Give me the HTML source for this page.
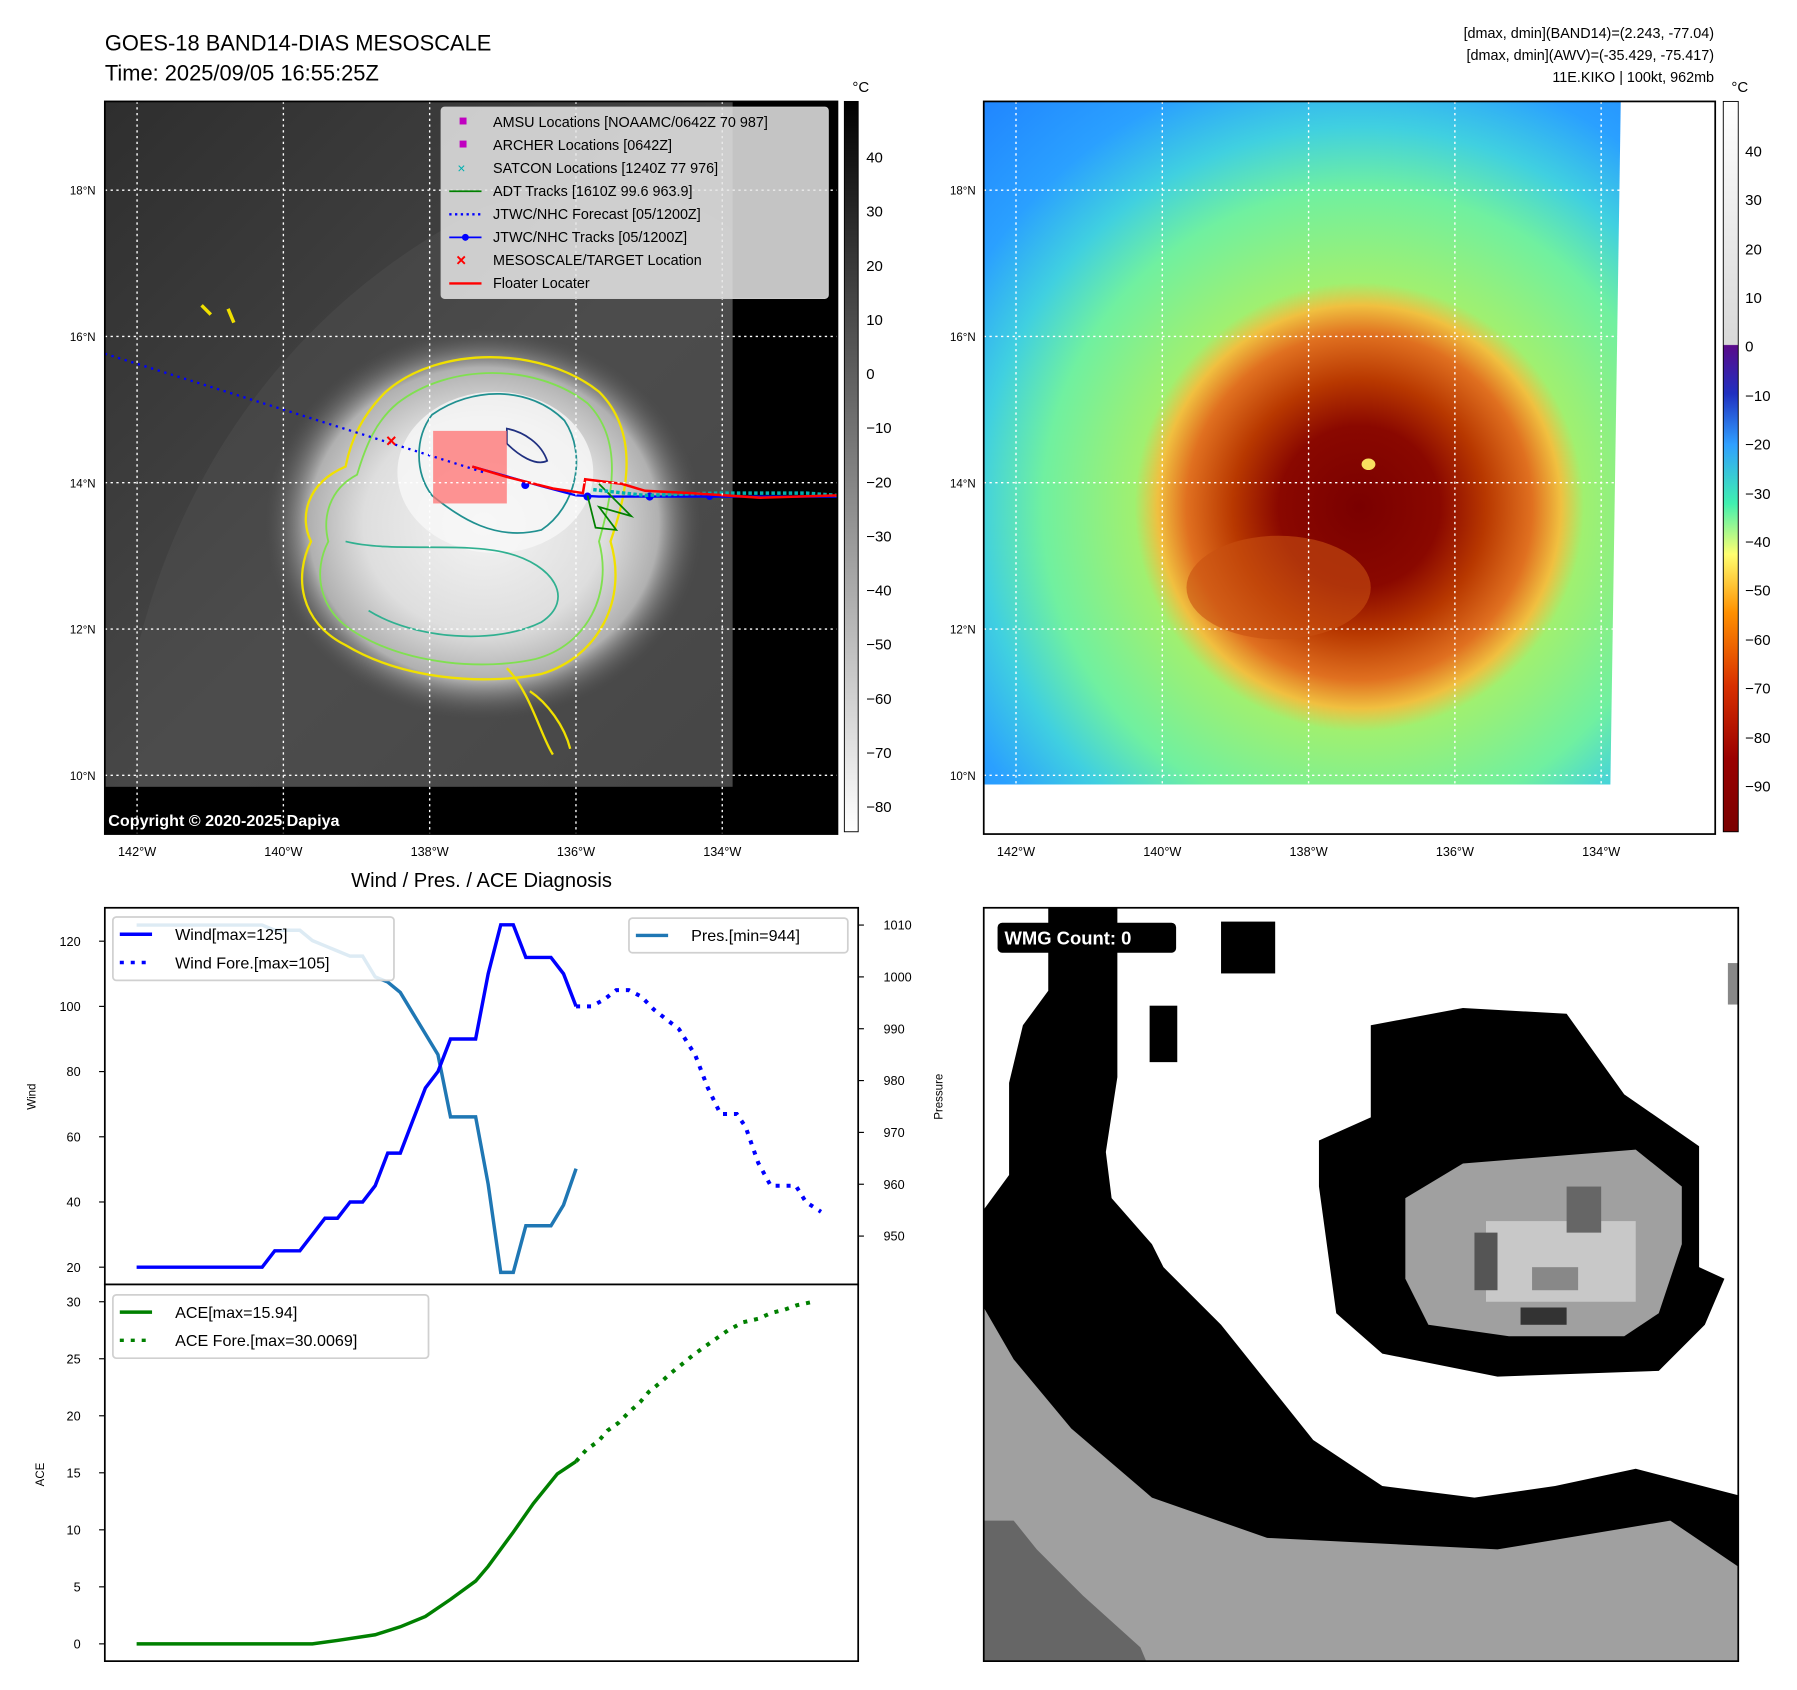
<!DOCTYPE html>
<html><head><meta charset="utf-8"><style>
html,body{margin:0;padding:0;background:#fff}
svg{display:block;font-family:"Liberation Sans","DejaVu Sans",sans-serif}
</style></head><body>
<svg id="fig" width="1797" height="1690" viewBox="0 0 1560 1467" xmlns="http://www.w3.org/2000/svg">
<defs>
<radialGradient id="cloud" cx="0.5" cy="0.5" r="0.5">
<stop offset="0" stop-color="#f4f4f4"/><stop offset="0.55" stop-color="#dedede"/><stop offset="0.8" stop-color="#b0b0b0"/><stop offset="1" stop-color="#555" stop-opacity="0"/>
</radialGradient>
<linearGradient id="bgL" x1="0" y1="0" x2="1" y2="1">
<stop offset="0" stop-color="#2e2e2e"/><stop offset="0.5" stop-color="#484848"/><stop offset="1" stop-color="#3c3c3c"/>
</linearGradient>
<radialGradient id="storm" cx="1180" cy="440" r="500" gradientUnits="userSpaceOnUse">
<stop offset="0" stop-color="#7a0000"/><stop offset="0.14" stop-color="#8a0800"/><stop offset="0.22" stop-color="#b83800"/><stop offset="0.3" stop-color="#e07020"/><stop offset="0.35" stop-color="#f0c040"/><stop offset="0.39" stop-color="#a0f070"/><stop offset="0.55" stop-color="#70f0a0"/><stop offset="0.66" stop-color="#40d0e0"/><stop offset="0.78" stop-color="#2aa0ff"/><stop offset="1" stop-color="#1e80ff"/>
</radialGradient>
<linearGradient id="cbL" x1="0" y1="0" x2="0" y2="1">
<stop offset="0" stop-color="#000"/><stop offset="1" stop-color="#fff"/>
</linearGradient>
<linearGradient id="cbR" x1="0" y1="0" x2="0" y2="1">
<stop offset="0" stop-color="#ffffff"/><stop offset="0.333" stop-color="#d8d8d8"/><stop offset="0.334" stop-color="#5a0a8a"/><stop offset="0.4" stop-color="#2030c0"/><stop offset="0.47" stop-color="#30a0ff"/><stop offset="0.55" stop-color="#40f0b0"/><stop offset="0.62" stop-color="#ffff70"/><stop offset="0.7" stop-color="#ff9000"/><stop offset="0.8" stop-color="#d83000"/><stop offset="0.9" stop-color="#9a0000"/><stop offset="1" stop-color="#7a0000"/>
</linearGradient>
</defs>

<text x="91" y="44" font-size="19">GOES-18 BAND14-DIAS MESOSCALE</text>
<text x="91" y="70" font-size="19">Time: 2025/09/05 16:55:25Z</text>
<g font-size="12.5" text-anchor="end">
<text x="1488" y="33">[dmax, dmin](BAND14)=(2.243, -77.04)</text>
<text x="1488" y="52">[dmax, dmin](AWV)=(-35.429, -75.417)</text>
<text x="1488" y="71">11E.KIKO | 100kt, 962mb</text>
</g>

<!-- Left satellite map -->
<g>
<rect x="91" y="88" width="636" height="636" fill="url(#bgL)"/>
<path d="M120,560 C160,400 260,260 420,180 C520,150 600,170 636,200 L636,683 L120,683Z" fill="#555" opacity="0.35"/>
<rect x="636" y="88" width="91" height="636" fill="#000"/>
<rect x="91" y="683" width="636" height="41" fill="#000"/>
<ellipse cx="420" cy="455" rx="190" ry="170" fill="url(#cloud)"/>
<ellipse cx="430" cy="410" rx="85" ry="70" fill="#f8f8f8" opacity="0.8"/>
<path d="M335,340 C380,300 470,300 520,340 C560,380 540,440 530,470 C545,520 520,570 470,585 C420,595 350,590 300,560 C260,540 255,500 270,470 C260,450 265,420 300,405 C305,380 315,360 335,340Z" fill="none" stroke="#f0e000" stroke-width="2"/>
<path d="M345,350 C390,315 465,315 510,350 C545,385 528,440 520,470 C532,515 510,560 465,572 C420,582 355,577 310,550 C275,530 272,495 285,470 C280,450 285,425 310,412 C318,385 327,365 345,350Z" fill="none" stroke="#80e050" stroke-width="1.6"/>
<path d="M375,360 C410,335 460,335 490,365 C510,395 500,440 470,460 C430,470 400,450 375,430 C360,410 360,380 375,360Z" fill="none" stroke="#209090" stroke-width="1.5"/>
<path d="M300,470 C340,480 400,470 440,480 C480,490 500,520 470,540 C430,560 360,555 320,530" fill="none" stroke="#30b090" stroke-width="1.5"/>
<path d="M440,372 C455,375 470,385 475,400 C465,405 450,395 440,385Z" fill="none" stroke="#203080" stroke-width="1.5"/>
<path d="M440,580 C460,600 470,640 480,655 M460,600 C475,610 490,630 495,650" fill="none" stroke="#f0e000" stroke-width="2"/>
<path d="M175,265 l8,8 M198,268 l5,12" stroke="#f0e000" stroke-width="3"/>
<rect x="376" y="374" width="64" height="63" fill="#ff7070" opacity="0.75"/>
<path d="M91,307 L420,410" stroke="#0000ff" stroke-width="2" stroke-dasharray="2,4" fill="none"/>
<path d="M410,405 L470,422 L500,430 L520,431 L560,431 L727,431" stroke="#0000ff" stroke-width="2" fill="none"/>
<g fill="#0000ff"><circle cx="456" cy="421" r="3.5"/><circle cx="510" cy="431" r="3.5"/><circle cx="564" cy="431" r="3.5"/><circle cx="616" cy="431" r="3"/></g>
<path d="M510,430 L517,458 L535,460 L520,440 L548,448 L520,420" stroke="#008000" stroke-width="1.5" fill="none"/>
<path d="M515,425 L560,430 L620,428 L700,428 L727,430" stroke="#00b0b0" stroke-width="3" stroke-dasharray="3,2" fill="none"/>
<path d="M410,405 L440,414 L480,424 L506,428 L508,416 L540,420 L560,426 L600,428 L660,432 L727,430" stroke="#ff0000" stroke-width="2.2" fill="none"/>
<text x="335" y="388" fill="#ff0000" font-size="16" font-weight="bold">×</text>
<g stroke="#fff" stroke-width="1.2" stroke-dasharray="2,3">
<line x1="119" y1="88" x2="119" y2="724"/><line x1="246" y1="88" x2="246" y2="724"/><line x1="373" y1="88" x2="373" y2="724"/><line x1="500" y1="88" x2="500" y2="724"/><line x1="627" y1="88" x2="627" y2="724"/>
<line x1="91" y1="165" x2="727" y2="165"/><line x1="91" y1="292" x2="727" y2="292"/><line x1="91" y1="419" x2="727" y2="419"/><line x1="91" y1="546" x2="727" y2="546"/><line x1="91" y1="673" x2="727" y2="673"/>
</g>
<text x="94" y="717" fill="#fff" font-size="14" font-weight="bold">Copyright © 2020-2025 Dapiya</text>
<rect x="91" y="88" width="636" height="636" fill="none" stroke="#000" stroke-width="1.5"/>
</g>
<g>
<rect x="383" y="93" width="336" height="166" rx="3" fill="#e6e6e6" fill-opacity="0.85" stroke="#ccc"/>
<g font-size="12.5">
<rect x="399" y="102" width="6" height="6" fill="#c000c0"/><text x="428" y="110">AMSU Locations [NOAAMC/0642Z 70 987]</text>
<rect x="399" y="122" width="6" height="6" fill="#c000c0"/><text x="428" y="130">ARCHER Locations [0642Z]</text>
<text x="397" y="150" fill="#00b0b0" font-size="12">×</text><text x="428" y="150">SATCON Locations [1240Z 77 976]</text>
<line x1="390" y1="166" x2="418" y2="166" stroke="#008000" stroke-width="1.5"/><text x="428" y="170">ADT Tracks [1610Z 99.6 963.9]</text>
<line x1="390" y1="186" x2="418" y2="186" stroke="#0000ff" stroke-width="2" stroke-dasharray="2,3"/><text x="428" y="190">JTWC/NHC Forecast [05/1200Z]</text>
<line x1="390" y1="206" x2="418" y2="206" stroke="#0000ff" stroke-width="1.5"/><circle cx="404" cy="206" r="3" fill="#0000ff"/><text x="428" y="210">JTWC/NHC Tracks [05/1200Z]</text>
<text x="396" y="231" fill="#f00" font-size="15" font-weight="bold">×</text><text x="428" y="230">MESOSCALE/TARGET Location</text>
<line x1="390" y1="246" x2="418" y2="246" stroke="#ff0000" stroke-width="2"/><text x="428" y="250">Floater Locater</text>
</g></g>
<g font-size="11">
<g text-anchor="middle"><text x="119" y="743">142°W</text><text x="246" y="743">140°W</text><text x="373" y="743">138°W</text><text x="500" y="743">136°W</text><text x="627" y="743">134°W</text></g>
<g text-anchor="end" font-size="10"><text x="83" y="169">18°N</text><text x="83" y="296">16°N</text><text x="83" y="423">14°N</text><text x="83" y="550">12°N</text><text x="83" y="677">10°N</text></g>
</g>
<g>
<rect x="733" y="88" width="12" height="634" fill="url(#cbL)" stroke="#000" stroke-width="0.8"/>
<text x="740" y="80" font-size="13">°C</text>
<g font-size="13"><text x="752" y="141">40</text><text x="752" y="188">30</text><text x="752" y="235">20</text><text x="752" y="282">10</text><text x="752" y="329">0</text><text x="752" y="376">−10</text><text x="752" y="423">−20</text><text x="752" y="470">−30</text><text x="752" y="517">−40</text><text x="752" y="564">−50</text><text x="752" y="611">−60</text><text x="752" y="658">−70</text><text x="752" y="705">−80</text></g>
</g>

<!-- Right map -->
<g>
<rect x="854" y="88" width="635" height="636" fill="#fff"/>
<path d="M854,88 L1407,88 L1398,681 L854,681Z" fill="url(#storm)"/>
<ellipse cx="1110" cy="510" rx="80" ry="45" fill="#c85010" opacity="0.6"/>
<ellipse cx="1188" cy="403" rx="6" ry="5" fill="#f8e060"/>
<g stroke="#fff" stroke-width="1.2" stroke-dasharray="2,3">
<line x1="882" y1="88" x2="882" y2="724"/><line x1="1009" y1="88" x2="1009" y2="724"/><line x1="1136" y1="88" x2="1136" y2="724"/><line x1="1263" y1="88" x2="1263" y2="724"/><line x1="1390" y1="88" x2="1390" y2="724"/>
<line x1="854" y1="165" x2="1489" y2="165"/><line x1="854" y1="292" x2="1489" y2="292"/><line x1="854" y1="419" x2="1489" y2="419"/><line x1="854" y1="546" x2="1489" y2="546"/><line x1="854" y1="673" x2="1489" y2="673"/>
</g>
<rect x="854" y="88" width="635" height="636" fill="none" stroke="#000" stroke-width="1.5"/>
</g>
<g font-size="11">
<g text-anchor="middle"><text x="882" y="743">142°W</text><text x="1009" y="743">140°W</text><text x="1136" y="743">138°W</text><text x="1263" y="743">136°W</text><text x="1390" y="743">134°W</text></g>
<g text-anchor="end" font-size="10"><text x="847" y="169">18°N</text><text x="847" y="296">16°N</text><text x="847" y="423">14°N</text><text x="847" y="550">12°N</text><text x="847" y="677">10°N</text></g>
</g>
<g>
<rect x="1496" y="88" width="13" height="634" fill="url(#cbR)" stroke="#000" stroke-width="0.8"/>
<text x="1503" y="80" font-size="13">°C</text>
<g font-size="13"><text x="1515" y="136">40</text><text x="1515" y="178">30</text><text x="1515" y="221">20</text><text x="1515" y="263">10</text><text x="1515" y="305">0</text><text x="1515" y="348">−10</text><text x="1515" y="390">−20</text><text x="1515" y="433">−30</text><text x="1515" y="475">−40</text><text x="1515" y="517">−50</text><text x="1515" y="560">−60</text><text x="1515" y="602">−70</text><text x="1515" y="645">−80</text><text x="1515" y="687">−90</text></g>
</g>

<!-- Bottom-right WMG -->
<g>
<rect x="854" y="788" width="655" height="654" fill="#fff"/>
<path d="M854,1135 L880,1160 L930,1230 L1000,1290 L1100,1330 L1300,1340 L1450,1310 L1509,1360 L1509,1442 L854,1442Z" fill="#a0a0a0"/>
<path d="M854,1320 L880,1320 L900,1345 L940,1385 L990,1430 L995,1442 L854,1442Z" fill="#666"/>
<path d="M910,788 L970,788 L970,935 L960,1000 L965,1040 L1000,1080 L1010,1100 L1060,1150 L1100,1200 L1140,1250 L1200,1290 L1280,1300 L1350,1290 L1420,1275 L1509,1298 L1509,1360 L1450,1320 L1300,1345 L1100,1335 L1000,1300 L930,1240 L880,1180 L854,1135 L854,1050 L876,1020 L876,940 L888,890 L910,860Z" fill="#000"/>
<path d="M1190,890 L1270,875 L1360,880 L1410,950 L1475,995 L1475,1100 L1497,1110 L1480,1150 L1440,1190 L1300,1195 L1200,1175 L1160,1140 L1145,1030 L1145,990 L1190,970Z" fill="#000"/>
<rect x="1060" y="800" width="47" height="45" fill="#000"/><rect x="998" y="873" width="24" height="49" fill="#000"/>
<path d="M1270,1010 L1420,998 L1460,1030 L1460,1080 L1440,1140 L1410,1160 L1310,1160 L1240,1150 L1220,1110 L1220,1040Z" fill="#a0a0a0"/>
<rect x="1290" y="1060" width="130" height="70" fill="#c8c8c8"/>
<rect x="1280" y="1070" width="20" height="50" fill="#555"/><rect x="1330" y="1100" width="40" height="20" fill="#888"/><rect x="1360" y="1030" width="30" height="40" fill="#666"/><rect x="1320" y="1135" width="40" height="15" fill="#333"/>
<rect x="1500" y="836" width="9" height="36" fill="#888"/>
<rect x="866" y="801" width="155" height="26" rx="4" fill="#000"/>
<text x="872" y="820" fill="#fff" font-size="16" font-weight="bold">WMG Count: 0</text>
<rect x="854" y="788" width="655" height="654" fill="none" stroke="#000" stroke-width="1.5"/>
</g>

<text x="418" y="770" font-size="17.5" text-anchor="middle">Wind / Pres. / ACE Diagnosis</text>
<g id="chart"></g>
</svg>
<script>
const obsIdx=[0,1,2,3,4,5,6,7,8,9,10,11,12,13,14,15,16,17,18,19,20,21,22,23,24,25,26,27,28,29,30,31,32,33,34,35];
const windObs=[20,20,20,20,20,20,20,20,20,20,20,25,25,25,30,35,35,40,40,45,55,55,65,75,80,90,90,90,110,125,125,115,115,115,110,100];
const presObs=[1010,1010,1010,1010,1010,1010,1010,1010,1010,1010,1010,1009,1009,1009,1007,1006,1005,1004,1004,1000,999,997,993,989,985,973,973,973,960,943,943,952,952,952,956,963];
const foreIdx=[35,36.2,37.2,38.2,39.2,40.2,41.2,42.2,43.2,44.5,45.5,46.5,47.8,48.5,49.5,50.5,51.5,52.5,53.3,54.5];
const windFore=[100,100,102,105,105,103,99,96,93,85,75,67,67,63,52,45,45,45,40,37];
const aceIdx=[0,14,16,19,21,23,25,27,28,30,31.6,33.5,35];
const aceObs=[0,0,0.3,0.8,1.5,2.4,3.9,5.5,6.8,9.8,12.3,14.9,16.0];
const aceForeIdx=[35,35.8,36.8,37.5,38.4,39.2,40.1,40.8,41.7,42.5,43.4,44.3,45.3,46.2,47.1,48.3,49.5,50.5,51.6,52.6,53.9];
const aceFore=[16.0,17.0,17.8,18.7,19.4,20.3,21.2,22.1,22.9,23.7,24.5,25.3,26.1,26.8,27.5,28.2,28.5,29.0,29.3,29.7,30.0];
const windTicks=[20,40,60,80,100,120];
const presTicks=[950,960,970,980,990,1000,1010];
const aceTicks=[0,5,10,15,20,25,30];

const NS='http://www.w3.org/2000/svg';
const g=document.getElementById('chart');
const X=i=>118.6+i*10.9;
const YW=v=>1100-(v-20)*(283/100);
const YP=v=>803+(1010-v)*4.5;
const YA=v=>1427-v*(297/30);
function mk(tag,attrs,parent){const e=document.createElementNS(NS,tag);for(const k in attrs)e.setAttribute(k,attrs[k]);(parent||g).appendChild(e);return e;}
function pathD(xs,ys,fy){return xs.map((x,i)=>(i?'L':'M')+X(x).toFixed(1)+','+fy(ys[i]).toFixed(1)).join(' ');}

let el;
el=mk('rect',{x:91,y:788,width:654,height:327,fill:'#fff',stroke:'#000','stroke-width':1.5});


el=mk('rect',{x:91,y:1115,width:654,height:327,fill:'#fff',stroke:'#000','stroke-width':1.5});



windTicks.forEach(v=>{
  mk('line',{x1:86,x2:91,y1:YW(v),y2:YW(v),stroke:'#000'});
  el=mk('text',{x:70,y:YW(v)+4,'font-size':11,'text-anchor':'end'});el.textContent=v;
  
  
});
presTicks.forEach(v=>{
  mk('line',{x1:745,x2:750,y1:YP(v),y2:YP(v),stroke:'#000'});
  el=mk('text',{x:767,y:YP(v)+4,'font-size':11});el.textContent=v;
  
  
});
aceTicks.forEach(v=>{
  mk('line',{x1:86,x2:91,y1:YA(v),y2:YA(v),stroke:'#000'});
  el=mk('text',{x:70,y:YA(v)+4,'font-size':11,'text-anchor':'end'});el.textContent=v;
  
  
});
el=mk('text',{x:0,y:0,'font-size':10,'text-anchor':'middle',transform:'translate(31,952) rotate(-90)'});el.textContent='Wind';


el=mk('text',{x:0,y:0,'font-size':10,'text-anchor':'middle',transform:'translate(818,952) rotate(-90)'});el.textContent='Pressure';


el=mk('text',{x:0,y:0,'font-size':10,'text-anchor':'middle',transform:'translate(38,1280) rotate(-90)'});el.textContent='ACE';



el=mk('path',{d:pathD(obsIdx,presObs,YP),stroke:'#1f77b4','stroke-width':3,fill:'none'});


el=mk('path',{d:pathD(obsIdx,windObs,YW),stroke:'#0000ff','stroke-width':3,fill:'none'});


el=mk('path',{d:pathD(foreIdx,windFore,YW),stroke:'#0000ff','stroke-width':3.5,fill:'none','stroke-dasharray':'3.5,6'});


el=mk('path',{d:pathD(aceIdx,aceObs,YA),stroke:'#008000','stroke-width':3,fill:'none'});


el=mk('path',{d:pathD(aceForeIdx,aceFore,YA),stroke:'#008000','stroke-width':3.5,fill:'none','stroke-dasharray':'3.5,6'});



function legend(x,y,w,h,items,name){
  const lg=mk('g',{});
  
  
  mk('rect',{x:x,y:y,width:w,height:h,rx:3,fill:'#fff','fill-opacity':0.85,stroke:'#d0d0d0','stroke-width':1.5},lg);
  items.forEach((it,k)=>{
    const yy=y+15+k*24.5;
    const a={x1:x+6,x2:x+34,y1:yy,y2:yy,stroke:it.c,'stroke-width':3};
    if(it.d)a['stroke-dasharray']='3.5,6';
    mk('line',a,lg);
    const t=mk('text',{x:x+54,y:yy+5,'font-size':14},lg);t.textContent=it.t;
  });
}
legend(98,796,244,55,[{c:'#0000ff',t:'Wind[max=125]'},{c:'#0000ff',t:'Wind Fore.[max=105]',d:1}],'wind-legend');
legend(546,797,190,30,[{c:'#1f77b4',t:'Pres.[min=944]'}],'pressure-legend');
legend(98,1124,274,55,[{c:'#008000',t:'ACE[max=15.94]'},{c:'#008000',t:'ACE Fore.[max=30.0069]',d:1}],'ace-legend');
</script>
</body></html>
